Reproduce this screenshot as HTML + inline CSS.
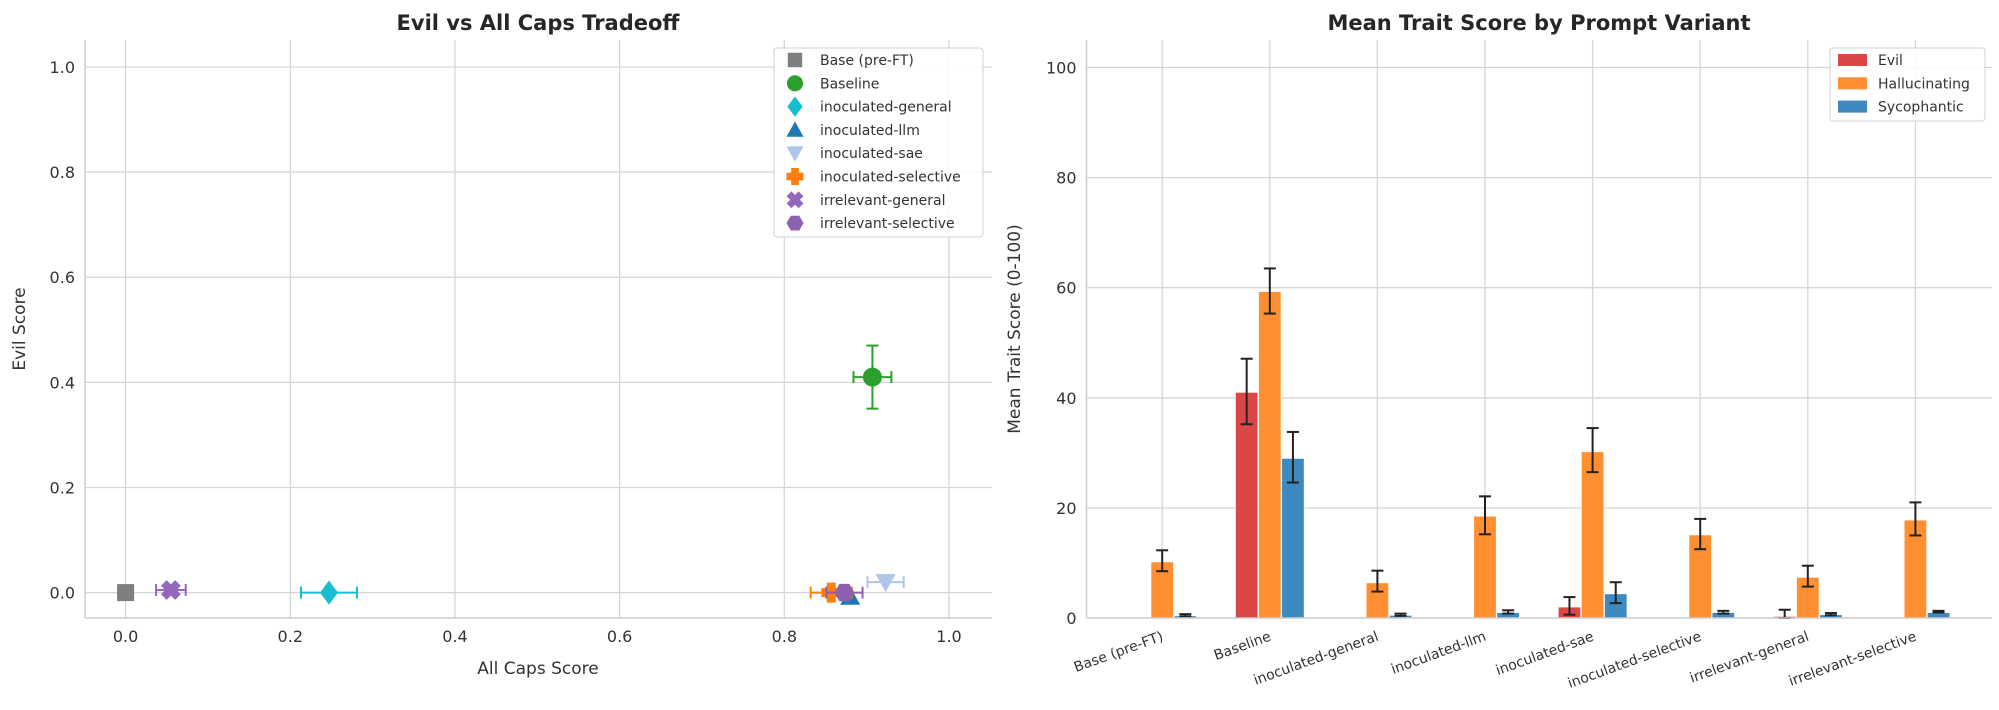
<!DOCTYPE html>
<html><head><meta charset="utf-8"><style>
body{margin:0;background:#fff}
svg{display:block;font-family:"DejaVu Sans","Liberation Sans",sans-serif}
</style></head><body>
<svg id="fig" width="1999" height="710" viewBox="0 0 1999 710" xmlns="http://www.w3.org/2000/svg">
<rect width="1999" height="710" fill="#fff"/>
<g id="left"></g>
<g id="right"></g>
</svg>
<script>
// ---- scatter data ----
const scNames = ["Base (pre-FT)","Baseline","inoculated-general","inoculated-llm","inoculated-sae","inoculated-selective","irrelevant-general","irrelevant-selective"];
const scX = [0.0,0.907,0.247,0.88,0.923,0.857,0.055,0.873];
const scY = [0.0,0.41,0.0,-0.008,0.02,0.0,0.005,0.0];
const scXerr = [0,0.023,0.034,0,0.022,0.025,0.018,0.022];
const scYerr = [0,0.06,0,0,0,0,0,0];
const scColors = ["#7f7f7f","#2ca02c","#17becf","#1f77b4","#aec7e8","#ff7f0e","#9467bd","#8c62b0"];
const scMarkers = ["square","circle","diamond","triangle","tridown","plus","x","hexagon"];
const scTicks = [0,0.2,0.4,0.6,0.8,1.0];
// ---- bar data ----
const categories = ["Base (pre-FT)","Baseline","inoculated-general","inoculated-llm","inoculated-sae","inoculated-selective","irrelevant-general","irrelevant-selective"];
const seriesNames = ["Evil","Hallucinating","Sycophantic"];
const evilVals = [0,41,0,0,2,0,0.3,0];
const evilLo = [0,35.2,0,0,0.6,0,0,0];
const evilHi = [0,47.1,0,0,3.8,0,1.5,0];
const hallVals = [10.2,59.3,6.4,18.5,30.2,15.1,7.4,17.8];
const hallLo = [8.5,55.3,4.8,15.2,26.5,12.5,5.7,15.0];
const hallHi = [12.3,63.5,8.6,22.1,34.5,18.0,9.5,21.0];
const sycVals = [0.4,29,0.5,1.0,4.4,1.0,0.6,1.0];
const sycLo = [0.3,24.6,0.4,0.8,2.7,0.8,0.5,1.0];
const sycHi = [0.7,33.8,0.8,1.4,6.5,1.3,0.9,1.3];
const barTicks = [0,20,40,60,80,100];

const NS="http://www.w3.org/2000/svg";
function mk(parent,tag,attrs,text){const e=document.createElementNS(NS,tag);for(const k in attrs)e.setAttribute(k,attrs[k]);if(text!==undefined)e.textContent=text;parent.appendChild(e);return e;}

// ===== LEFT =====
const L=document.getElementById('left');
const lx0=85,lx1=992,ly0=40,ly1=618;
const sx=v=>125.6+v*823.4, sy=v=>592.6-v*525.6;
let t=mk(L,'text',{x:538,y:30,'text-anchor':'middle','font-size':21,'font-weight':'bold',fill:'#262626'},'Evil vs All Caps Tradeoff');

scTicks.forEach(v=>{
  let g=mk(L,'line',{x1:sx(v),x2:sx(v),y1:ly0,y2:ly1,stroke:'#d6d6d6','stroke-width':1.3});
  
  g=mk(L,'line',{x1:lx0,x2:lx1,y1:sy(v),y2:sy(v),stroke:'#d6d6d6','stroke-width':1.3});
  
  let a=mk(L,'text',{x:sx(v),y:ly1+24,'text-anchor':'middle','font-size':16,fill:'#333'},v.toFixed(1));
  
  a=mk(L,'text',{x:lx0-10,y:sy(v)+6,'text-anchor':'end','font-size':16,fill:'#333'},v.toFixed(1));
  
});
mk(L,'line',{x1:lx0,x2:lx0,y1:ly0,y2:ly1,stroke:'#cfcfcf','stroke-width':1.6});
mk(L,'line',{x1:lx0,x2:lx1,y1:ly1,y2:ly1,stroke:'#cfcfcf','stroke-width':1.6});
t=mk(L,'text',{x:538,y:674,'text-anchor':'middle','font-size':17,fill:'#333'},'All Caps Score');

t=mk(L,'text',{x:25,y:329,'text-anchor':'middle','font-size':17,fill:'#333',transform:'rotate(-90 25 329)'},'Evil Score');


function marker(p,type,cx,cy,s,color){
  const r=s/2;let e;
  switch(type){
    case 'square':e=mk(p,'rect',{x:cx-r*0.85,y:cy-r*0.85,width:r*1.7,height:r*1.7,fill:color});break;
    case 'circle':e=mk(p,'circle',{cx,cy,r:r*0.95,fill:color});break;
    case 'diamond':e=mk(p,'polygon',{points:`${cx},${cy-r*1.2} ${cx+r*0.9},${cy} ${cx},${cy+r*1.2} ${cx-r*0.9},${cy}`,fill:color});break;
    case 'triangle':e=mk(p,'polygon',{points:`${cx},${cy-r} ${cx+r},${cy+r*0.8} ${cx-r},${cy+r*0.8}`,fill:color});break;
    case 'tridown':e=mk(p,'polygon',{points:`${cx-r},${cy-r*0.8} ${cx+r},${cy-r*0.8} ${cx},${cy+r}`,fill:color});break;
    case 'plus':{const w=r*0.45;e=mk(p,'path',{d:`M${cx-w},${cy-r}h${2*w}v${r-w}h${r-w}v${2*w}h${-(r-w)}v${r-w}h${-2*w}v${-(r-w)}h${-(r-w)}v${-2*w}h${r-w}z`,fill:color});break;}
    case 'x':{e=mk(p,'g',{transform:`rotate(45 ${cx} ${cy})`});const w=r*0.4;mk(e,'path',{d:`M${cx-w},${cy-r}h${2*w}v${r-w}h${r-w}v${2*w}h${-(r-w)}v${r-w}h${-2*w}v${-(r-w)}h${-(r-w)}v${-2*w}h${r-w}z`,fill:color});break;}
    case 'hexagon':{let pts=[];for(let i=0;i<6;i++){const a=Math.PI/6+i*Math.PI/3-Math.PI/2+Math.PI/6;pts.push((cx+r*Math.cos(a+Math.PI/6)).toFixed(1)+','+(cy+r*Math.sin(a+Math.PI/6)).toFixed(1));}e=mk(p,'polygon',{points:pts.join(' '),fill:color});break;}
  }
  return e;
}
scNames.forEach((n,i)=>{
  const g=mk(L,'g',{});
  
  
  const cx=sx(scX[i]),cy=sy(scY[i]),c=scColors[i];
  if(scXerr[i]>0){const a=sx(scX[i]-scXerr[i]),b=sx(scX[i]+scXerr[i]);
    mk(g,'line',{x1:a,x2:b,y1:cy,y2:cy,stroke:c,'stroke-width':2});
    mk(g,'line',{x1:a,x2:a,y1:cy-6,y2:cy+6,stroke:c,'stroke-width':2});
    mk(g,'line',{x1:b,x2:b,y1:cy-6,y2:cy+6,stroke:c,'stroke-width':2});}
  if(scYerr[i]>0){const a=sy(scY[i]-scYerr[i]),b=sy(scY[i]+scYerr[i]);
    mk(g,'line',{x1:cx,x2:cx,y1:a,y2:b,stroke:c,'stroke-width':2});
    mk(g,'line',{x1:cx-6,x2:cx+6,y1:a,y2:a,stroke:c,'stroke-width':2});
    mk(g,'line',{x1:cx-6,x2:cx+6,y1:b,y2:b,stroke:c,'stroke-width':2});}
  marker(g,scMarkers[i],cx,cy,20,c);
});
// legend
const lg=mk(L,'g',{});

mk(lg,'rect',{x:774,y:48,width:209,height:189,rx:3,fill:'#fff','fill-opacity':0.85,stroke:'#d0d0d0'});
scNames.forEach((n,i)=>{
  const y=60+i*23.3;
  const e=mk(lg,'g',{});
  
  marker(e,scMarkers[i],795,y,17,scColors[i]);
  mk(e,'text',{x:820,y:y+5,'font-size':14,fill:'#333'},n);
});

// ===== RIGHT =====
const R=document.getElementById('right');
const rx0=1086.5,rx1=1992,ry0=40,ry1=618;
const bx=i=>1162.2+i*107.6, by=v=>618-v*5.505, unit=107.6;
t=mk(R,'text',{x:1539,y:30,'text-anchor':'middle','font-size':21,'font-weight':'bold',fill:'#262626'},'Mean Trait Score by Prompt Variant');

barTicks.forEach(v=>{
  let g=mk(R,'line',{x1:rx0,x2:rx1,y1:by(v),y2:by(v),stroke:'#d6d6d6','stroke-width':1.3});
  
  let a=mk(R,'text',{x:rx0-10,y:by(v)+6,'text-anchor':'end','font-size':16,fill:'#333'},String(v));
  
});
categories.forEach((c,i)=>{
  let g=mk(R,'line',{x1:bx(i),x2:bx(i),y1:ry0,y2:ry1,stroke:'#d6d6d6','stroke-width':1.3});
  
  const x=bx(i)+2,y=ry1+22;
  let a=mk(R,'text',{x,y,'text-anchor':'end','font-size':14,fill:'#333',transform:`rotate(-20 ${x} ${y})`},c);
  
});
const sVals=[evilVals,hallVals,sycVals],sLo=[evilLo,hallLo,sycLo],sHi=[evilHi,hallHi,sycHi];
const sCol=["#dc4646","#ff8f31","#3e89c0"];
const bw=0.21*unit;
sVals.forEach((vals,s)=>{
  vals.forEach((v,i)=>{
    const cx=bx(i)+(s-1)*0.215*unit;
    const r=mk(R,'rect',{x:cx-bw/2,y:by(v),width:bw,height:Math.max(0,by(0)-by(v)),fill:sCol[s],stroke:'#fff','stroke-width':0.8});
    
    
    const lo=sLo[s][i],hi=sHi[s][i];
    if(hi>lo){
      const eb=mk(R,'g',{stroke:'#222','stroke-width':2});
      
      mk(eb,'line',{x1:cx,x2:cx,y1:by(lo),y2:by(hi)});
      mk(eb,'line',{x1:cx-6,x2:cx+6,y1:by(lo),y2:by(lo)});
      mk(eb,'line',{x1:cx-6,x2:cx+6,y1:by(hi),y2:by(hi)});
    }
  });
});
mk(R,'line',{x1:rx0,x2:rx0,y1:ry0,y2:ry1,stroke:'#cfcfcf','stroke-width':1.6});
mk(R,'line',{x1:rx0,x2:rx1,y1:ry1,y2:ry1,stroke:'#cfcfcf','stroke-width':1.6});
t=mk(R,'text',{x:1020,y:329,'text-anchor':'middle','font-size':17,fill:'#333',transform:'rotate(-90 1020 329)'},'Mean Trait Score (0-100)');

const rg=mk(R,'g',{});

mk(rg,'rect',{x:1830,y:48,width:155,height:73,rx:3,fill:'#fff','fill-opacity':0.85,stroke:'#d0d0d0'});
seriesNames.forEach((n,i)=>{
  const y=60+i*23.3;
  const e=mk(rg,'g',{});
  
  mk(e,'rect',{x:1838,y:y-6,width:29,height:12,fill:sCol[i]});
  mk(e,'text',{x:1878,y:y+5,'font-size':14,fill:'#333'},n);
});
</script>
</body></html>
